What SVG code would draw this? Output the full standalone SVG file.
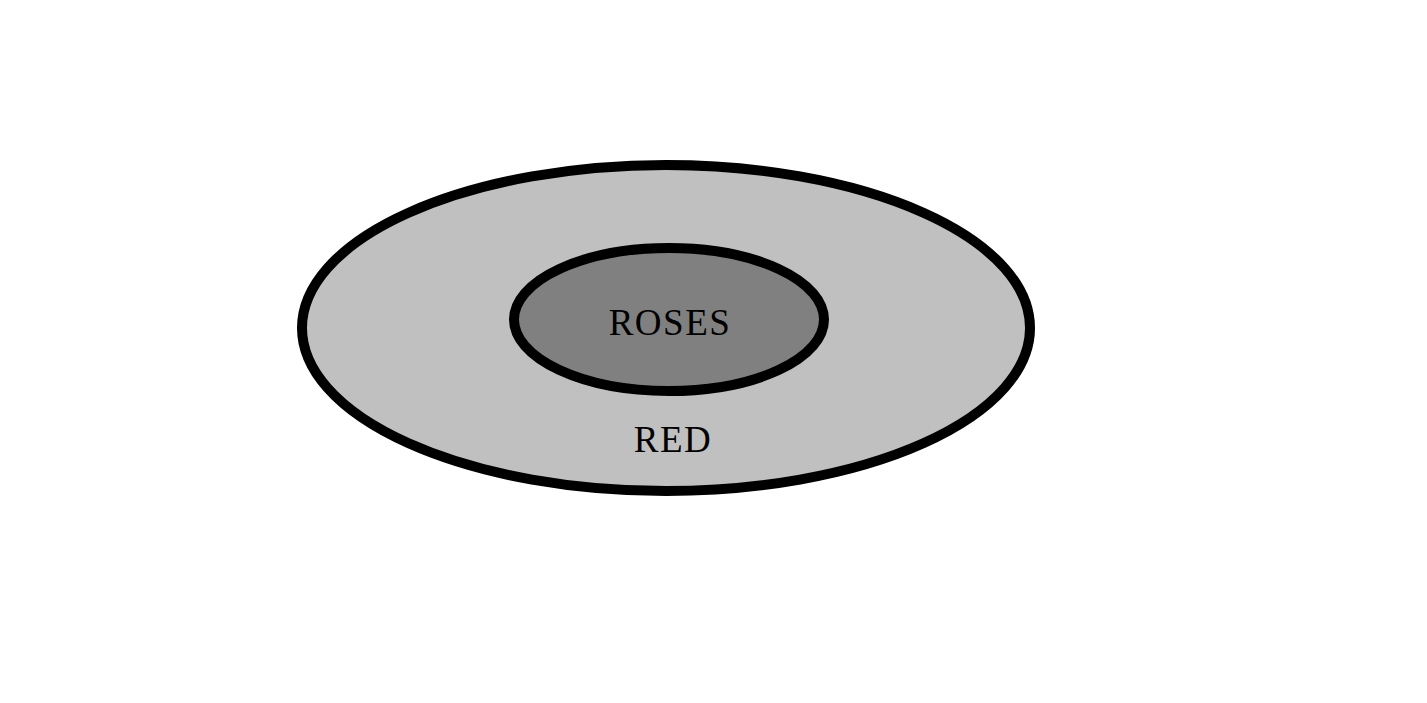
<svg xmlns="http://www.w3.org/2000/svg" width="1427" height="703" viewBox="0 0 1427 703">
<style>
.e{stroke:#000;stroke-width:10}
.t{font-family:"Liberation Serif",serif;font-size:37px;fill:#000;letter-spacing:1.5px;text-anchor:middle}
</style>
<rect width="1427" height="703" fill="#fff"/>
<g id="red">
<ellipse class="e" cx="666" cy="328" rx="364" ry="163" fill="#c0c0c0"/>
<text class="t" x="673" y="452">RED</text>
</g>
<g id="roses">
<ellipse class="e" cx="669" cy="319.5" rx="155" ry="71.5" fill="#808080"/>
<text class="t" x="670" y="335">ROSES</text>
</g>
<g id="connectors"/>
</svg>
